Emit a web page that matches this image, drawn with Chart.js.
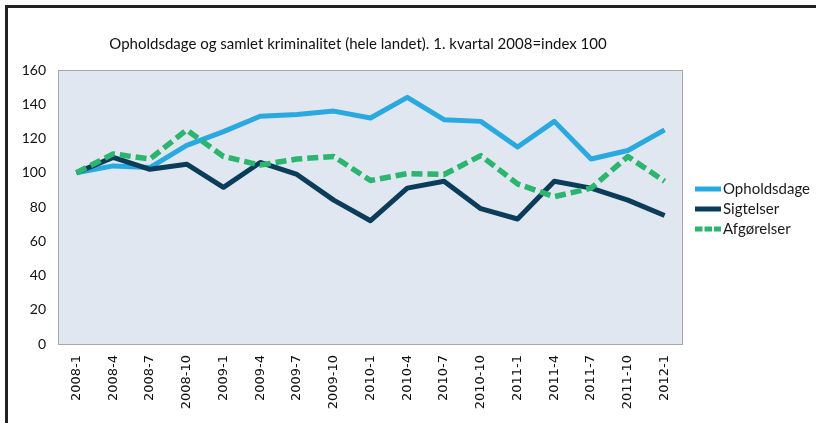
<!DOCTYPE html>
<html>
<head>
<meta charset="utf-8">
<script src="https://cdn.jsdelivr.net/npm/chart.js@4/dist/chart.umd.min.js"></script>
<style>
  html, body { margin: 0; padding: 0; background: #fff; overflow: hidden; }
  #wrap { position: relative; width: 816px; height: 423px; }
  #frame { position: absolute; left: 5px; top: 5px; width: 830px; height: 440px;
           border-top: 3px solid #222; border-left: 3px solid #222; pointer-events: none; box-sizing: border-box; }
  canvas { position: absolute; left: 0; top: 0; }
</style>
</head>
<body>
<div id="wrap">
  <canvas id="c" width="816" height="423"></canvas>
  <div id="frame"></div>
</div>
<script>
const categories = ["2008-1","2008-4","2008-7","2008-10","2009-1","2009-4","2009-7","2009-10","2010-1","2010-4","2010-7","2010-10","2011-1","2011-4","2011-7","2011-10","2012-1"];
const opholdsdage = [100,104,103,116,124,133,134,136,132,144,131,130,115,130,108,113,125];
const sigtelser   = [100,109,102,105,91.5,106,99,84,72,91,95,79,73,95,91,84,75];
const afgorelser  = [100,111,108,125,109.5,104.5,108,109.5,95.5,99.5,99,110,93.5,86,91,109.5,95];
const yTicks = [0,20,40,60,80,100,120,140,160];
const seriesNames = ["Opholdsdage","Sigtelser","Afgørelser"];
const titleText = "Opholdsdage og samlet kriminalitet (hele landet). 1. kvartal 2008=index 100";

const colBlue = "#29a9e0", colNavy = "#0b3d5a", colGreen = "#2bb56e";

const bgPlugin = {
  id: "plotBg",
  beforeDatasetsDraw(chart) {
    const {ctx, chartArea: a} = chart;
    ctx.save();
    ctx.fillStyle = "#e0e7f0";
    ctx.fillRect(a.left, a.top, a.right - a.left, a.bottom - a.top);
    ctx.strokeStyle = "#a8a8a8";
    ctx.lineWidth = 1;
    ctx.strokeRect(a.left + 0.5, a.top + 0.5, a.right - a.left - 1, a.bottom - a.top);
    ctx.restore();
  }
};

const legendPlugin = {
  id: "sideLegend",
  afterDraw(chart) {
    const {ctx, chartArea: a} = chart;
    const ds = chart.data.datasets;
    ctx.save();
    ctx.font = "15px Lato";
    ctx.textBaseline = "middle";
    ctx.textAlign = "left";
    const x0 = a.right + 12;
    const yStart = 189;
    ds.forEach((d, i) => {
      const y = yStart + i * 20;
      ctx.beginPath();
      ctx.strokeStyle = d.borderColor;
      ctx.lineWidth = 5;
      ctx.lineCap = "butt";
      ctx.setLineDash(d.borderDash && d.borderDash.length ? [7.5,2] : []);
      ctx.moveTo(x0, y);
      ctx.lineTo(x0 + 26, y);
      ctx.stroke();
      ctx.setLineDash([]);
      ctx.fillStyle = "#1a1a1a";
      ctx.fillText(d.label, x0 + 28, y);
    });
    ctx.restore();
  }
};

new Chart(document.getElementById("c"), {
  type: "line",
  data: {
    labels: categories,
    datasets: [
      { label: seriesNames[0], data: opholdsdage, borderColor: colBlue, backgroundColor: colBlue, borderWidth: 5, pointRadius: 0, tension: 0, borderJoinStyle: "round", order: 3 },
      { label: seriesNames[1], data: sigtelser, borderColor: colNavy, backgroundColor: colNavy, borderWidth: 5, pointRadius: 0, tension: 0, borderJoinStyle: "round", order: 2 },
      { label: seriesNames[2], data: afgorelser, borderColor: colGreen, backgroundColor: colGreen, borderWidth: 5.5, pointRadius: 0, tension: 0, borderDash: [11,5], borderJoinStyle: "round", order: 1 }
    ]
  },
  options: {
    responsive: false,
    animation: false,
    devicePixelRatio: 1,
    layout: { padding: { left: 33, right: 133, top: 0, bottom: 0 } },
    plugins: {
      legend: { display: false },
      tooltip: { enabled: false },
      title: {
        display: true,
        text: titleText,
        color: "#111",
        font: { family: "Lato", size: 15, weight: "normal", lineHeight: 1.2 },
        padding: { top: 35, bottom: 17 }
      }
    },
    scales: {
      x: {
        offset: true,
        grid: { display: false, drawTicks: false },
        border: { display: false },
        ticks: { color: "#111", font: { family: "DejaVu Sans", size: 13 }, minRotation: 90, maxRotation: 90, padding: 11, autoSkip: false },
        afterFit(s) { s.height = 79; }
      },
      y: {
        min: 0, max: 160,
        afterBuildTicks(s) { s.ticks = yTicks.map(v => ({ value: v })); },
        grid: { display: false, drawTicks: false },
        border: { display: false },
        ticks: { color: "#111", font: { family: "Lato", size: 14 }, padding: 12 },
        afterFit(s) { s.width = 25; s._computeLabelArea = () => undefined; }
      }
    }
  },
  plugins: [bgPlugin, legendPlugin]
});
</script>
</body>
</html>
